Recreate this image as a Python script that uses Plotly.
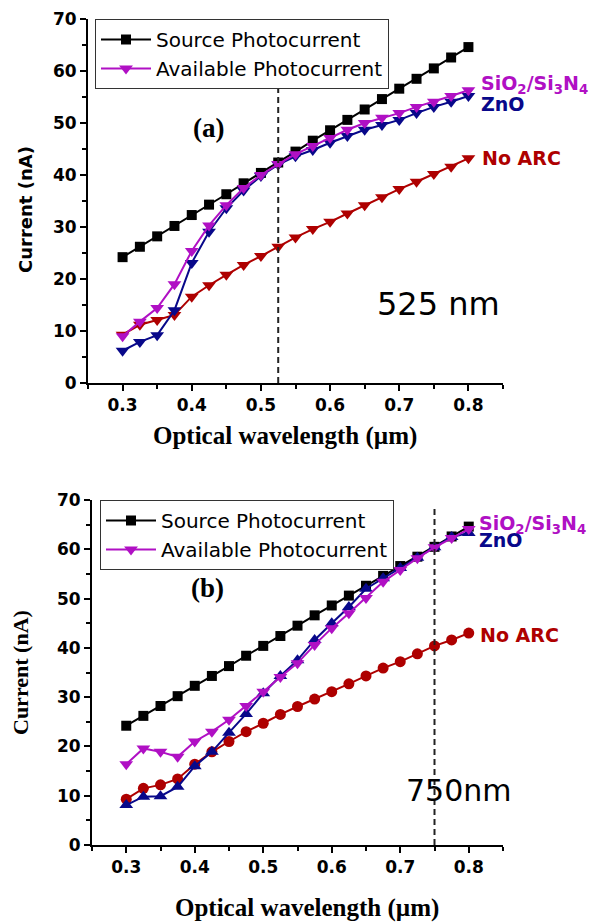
import plotly.graph_objects as go

# ---------------- data ----------------
wavelength = [0.3, 0.325, 0.35, 0.375, 0.4, 0.425, 0.45, 0.475, 0.5, 0.525, 0.55,
              0.575, 0.6, 0.625, 0.65, 0.675, 0.7, 0.725, 0.75, 0.775, 0.8]

source_photocurrent = [24.2, 26.2, 28.2, 30.2, 32.3, 34.3, 36.3, 38.4, 40.4, 42.4, 44.5,
                       46.6, 48.6, 50.6, 52.6, 54.6, 56.6, 58.5, 60.5, 62.6, 64.6]

a_sio2_si3n4 = [9.0, 11.8, 14.4, 19.0, 25.4, 30.3, 34.2, 37.5, 40.0, 42.1, 44.0,
                45.6, 47.1, 48.7, 50.0, 51.0, 51.9, 53.1, 54.1, 55.2, 56.3]
a_zno = [6.2, 7.9, 9.2, 14.0, 23.1, 29.1, 33.6, 37.0, 39.8, 42.0, 43.6,
         44.8, 46.2, 47.5, 48.7, 49.6, 50.6, 51.9, 53.1, 54.1, 55.2]
a_no_arc = [9.3, 11.2, 12.1, 13.1, 16.6, 18.8, 20.8, 22.7, 24.4, 26.2, 28.0,
            29.6, 31.0, 32.6, 34.2, 35.7, 37.3, 38.7, 40.2, 41.6, 43.2]

b_sio2_si3n4 = [16.4, 19.6, 18.9, 17.9, 21.0, 23.0, 25.4, 28.2, 31.1, 34.1, 36.9,
                40.6, 44.0, 47.0, 50.1, 53.4, 55.8, 58.2, 60.4, 62.3, 64.1]
b_zno = [8.1, 9.8, 9.9, 11.8, 16.0, 18.9, 22.8, 26.6, 30.8, 34.3, 37.5,
         41.6, 45.0, 48.3, 52.0, 54.1, 56.2, 58.3, 60.4, 62.5, 63.3]
b_no_arc = [9.3, 11.5, 12.2, 13.4, 16.4, 18.9, 21.0, 23.0, 24.7, 26.5, 28.1,
            29.6, 31.1, 32.7, 34.3, 35.9, 37.2, 38.8, 40.4, 41.6, 43.0]

marker_wavelength_a = 0.525
marker_wavelength_b = 0.75

# ---------------- styles ----------------
BLACK = "#000000"
MAGENTA = "#B010C4"
NAVY = "#08088A"
DARKRED = "#AE0000"

W, H = 592, 924


def px(x):
    return x / W


def py(y):
    return 1 - y / H


fig = go.Figure()

SYM_SIZE = {"square": 10, "triangle-down": 12, "triangle-up": 12, "circle": 11}


def add_panel(xa, ya, sio2, zno, noarc, sio2_sym, zno_sym, noarc_sym, legend):
    fig.add_trace(go.Scatter(x=wavelength, y=source_photocurrent, mode="lines+markers",
                             name="Source Photocurrent", xaxis=xa, yaxis=ya, legend=legend,
                             line=dict(color=BLACK, width=2),
                             marker=dict(symbol="square", size=SYM_SIZE["square"], color=BLACK)))
    fig.add_trace(go.Scatter(x=wavelength, y=noarc, mode="lines+markers", name="No ARC",
                             xaxis=xa, yaxis=ya, showlegend=False,
                             line=dict(color=DARKRED, width=2),
                             marker=dict(symbol=noarc_sym, size=SYM_SIZE[noarc_sym], color=DARKRED)))
    fig.add_trace(go.Scatter(x=wavelength, y=zno, mode="lines+markers", name="ZnO",
                             xaxis=xa, yaxis=ya, showlegend=False,
                             line=dict(color=NAVY, width=2),
                             marker=dict(symbol=zno_sym, size=SYM_SIZE[zno_sym], color=NAVY)))
    fig.add_trace(go.Scatter(x=wavelength, y=sio2, mode="lines+markers",
                             name="Available Photocurrent", xaxis=xa, yaxis=ya, legend=legend,
                             line=dict(color=MAGENTA, width=2),
                             marker=dict(symbol=sio2_sym, size=SYM_SIZE[sio2_sym], color=MAGENTA)))


add_panel("x", "y", a_sio2_si3n4, a_zno, a_no_arc,
          "triangle-down", "triangle-down", "triangle-down", "legend")
add_panel("x2", "y2", b_sio2_si3n4, b_zno, b_no_arc,
          "triangle-down", "triangle-up", "circle", "legend2")

tickfont = dict(family="DejaVu Sans", size=17, color=BLACK, weight="bold")


def xaxis_cfg(domain, anchor):
    return dict(domain=domain, anchor=anchor, range=[0.25, 0.85], tick0=0.3, dtick=0.1,
                ticks="outside", ticklen=6, tickwidth=2, tickcolor=BLACK,
                showline=True, linewidth=2, linecolor=BLACK, showgrid=False,
                zeroline=False, tickfont=tickfont, automargin=False,
                minor=dict(tick0=0.25, dtick=0.05, ticks="outside", ticklen=4,
                           tickwidth=2, tickcolor=BLACK, showgrid=False))


def yaxis_cfg(domain, anchor):
    return dict(domain=domain, anchor=anchor, range=[0, 70], tick0=0, dtick=10,
                ticks="outside", ticklen=6, tickwidth=2, tickcolor=BLACK,
                showline=True, linewidth=2, linecolor=BLACK, showgrid=False,
                zeroline=False, tickfont=tickfont, automargin=False,
                minor=dict(tick0=0, dtick=5, ticks="outside", ticklen=4,
                           tickwidth=2, tickcolor=BLACK, showgrid=False))


legend_common = dict(xanchor="left", yanchor="top", bgcolor="white",
                     bordercolor="#333333", borderwidth=1, itemwidth=50,
                     font=dict(family="DejaVu Sans", size=20, color=BLACK),
                     tracegroupgap=0)

fig.update_layout(
    width=W, height=H, margin=dict(l=0, r=0, t=0, b=0, autoexpand=False),
    paper_bgcolor="white", plot_bgcolor="white",
    xaxis=xaxis_cfg([px(88), px(503)], "y"),
    yaxis=yaxis_cfg([py(383), py(19)], "x"),
    xaxis2=xaxis_cfg([px(92), px(503)], "y2"),
    yaxis2=yaxis_cfg([py(845), py(500)], "x2"),
    legend=dict(x=px(95), y=py(19), **legend_common),
    legend2=dict(x=px(100), y=py(500), **legend_common),
)

# dashed marker lines
fig.add_shape(type="line", xref="x", yref="y", x0=marker_wavelength_a, x1=marker_wavelength_a,
              y0=0, y1=60, line=dict(color="#222222", width=2, dash="6px,4px"))
fig.add_shape(type="line", xref="x2", yref="y2", x0=marker_wavelength_b, x1=marker_wavelength_b,
              y0=0, y1=69, line=dict(color="#222222", width=2, dash="6px,4px"))

serif_bold = dict(family="Liberation Serif", color=BLACK, weight="bold")
sans_bold = dict(family="DejaVu Sans", weight="bold")


def ann(text, x, y, font, angle=0, xanchor="center"):
    fig.add_annotation(text=text, xref="paper", yref="paper", x=px(x), y=py(y),
                       xanchor=xanchor, yanchor="middle", showarrow=False,
                       textangle=angle, font=font)


# axis titles
ann("Current (nA)", 25, 210, dict(family="DejaVu Sans", size=18, color=BLACK, weight="bold"), -90)
ann("Current (nA)", 20, 673, dict(size=22, **serif_bold), -90)
ann("Optical wavelength (µm)", 285, 436, dict(size=25, **serif_bold))
ann("Optical wavelength (µm)", 307, 908, dict(size=25, **serif_bold))

# panel labels
ann("(a)", 209, 128, dict(size=27, **serif_bold))
ann("(b)", 207, 588, dict(size=27, **serif_bold))

# wavelength notes
ann("525 nm", 438, 304, dict(family="DejaVu Sans", size=32, color=BLACK))
ann("750nm", 459, 790, dict(family="DejaVu Sans", size=30, color=BLACK))

# curve labels
ann("SiO<sub>2</sub>/Si<sub>3</sub>N<sub>4</sub>", 479, 84, dict(size=19, color=MAGENTA, **sans_bold), xanchor="left")
ann("ZnO", 479, 104, dict(size=19, color=NAVY, **sans_bold), xanchor="left")
ann("No ARC", 480, 158, dict(size=19, color=DARKRED, **sans_bold), xanchor="left")
ann("SiO<sub>2</sub>/Si<sub>3</sub>N<sub>4</sub>", 477, 524, dict(size=19, color=MAGENTA, **sans_bold), xanchor="left")
ann("ZnO", 477, 540, dict(size=19, color=NAVY, **sans_bold), xanchor="left")
ann("No ARC", 478, 635, dict(size=19, color=DARKRED, **sans_bold), xanchor="left")

fig.write_html("out.html")
